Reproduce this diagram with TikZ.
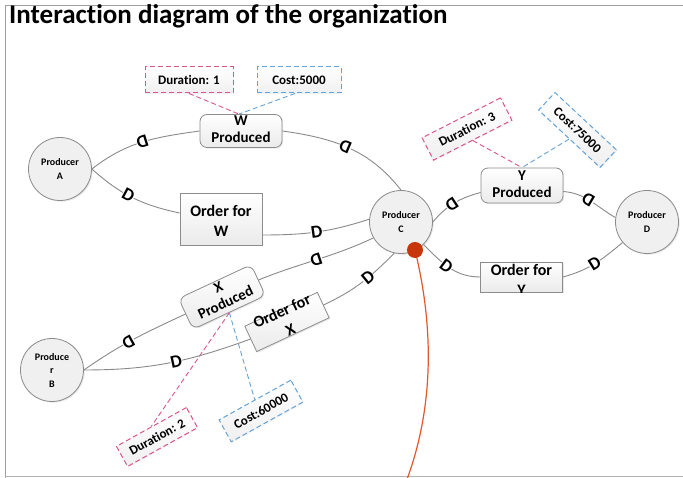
\documentclass[tikz,border=0pt]{standalone}
\usepackage{fontspec}
\setmainfont[Ligatures={NoCommon}]{Carlito}
\usetikzlibrary{shadows,calc}
\definecolor{linegray}{HTML}{8A8A8A}
\definecolor{edgegray}{HTML}{8C8C8C}
\definecolor{boxfill}{HTML}{F0F0F0}
\definecolor{durpink}{HTML}{D9558E}
\definecolor{costblue}{HTML}{63A3D8}
\definecolor{redline}{HTML}{E2572B}
\definecolor{reddot}{HTML}{C8370C}
\begin{document}
\begin{tikzpicture}[x=1pt,y=1pt,
  softshadow/.style={drop shadow={opacity=0.18,shadow xshift=1.2pt,shadow yshift=-1.2pt}},
  actor/.style={circle, draw=edgegray, line width=0.8pt, fill=boxfill, minimum size=63pt,
    inner sep=0pt, align=center, font=\bfseries\fontsize{10}{13.5}\selectfont, softshadow},
  prodbox/.style={rounded corners=7pt, draw=edgegray, line width=0.8pt, top color=white,
    bottom color=gray!16, minimum width=82pt, minimum height=33pt, inner sep=0pt, softshadow},
  orderbox/.style={rectangle, draw=edgegray, line width=0.8pt, top color=white,
    bottom color=gray!16, minimum width=82pt, inner sep=0pt, softshadow},
  boxtext/.style={align=center, inner sep=0pt, font=\bfseries\fontsize{15}{17}\selectfont},
  ordertext/.style={align=center, inner sep=0pt, font=\bfseries\fontsize{16}{20}\selectfont},
  note/.style={dash pattern=on 5pt off 3pt, line width=1pt, top color=white,
    bottom color=gray!12, inner sep=0pt, font=\bfseries\fontsize{13}{13}\selectfont,
    drop shadow={opacity=0.1,shadow xshift=1pt,shadow yshift=-1pt}},
  durnote/.style={note, draw=durpink},
  costnote/.style={note, draw=costblue},
  link/.style={draw=linegray, line width=0.9pt},
  durlink/.style={draw=durpink, dash pattern=on 5pt off 3pt, line width=0.9pt},
  costlink/.style={draw=costblue, dash pattern=on 5pt off 3pt, line width=0.9pt},
  dmark/.style={font=\bfseries\fontsize{18}{18}\selectfont, inner sep=0.3pt, sloped, fill=white, text=black},
]
\useasboundingbox (0,0) rectangle (683,478);

% frame and heading
\draw[gray!75, line width=0.8pt] (5,-5) -- (5,473) -- (690,473);
\draw[gray!60, line width=0.8pt] (5,1.5) -- (690,1.5);
\node[anchor=base west, inner sep=0pt, font=\bfseries\fontsize{27}{27}\selectfont] (title) at (9,454)
  {Interaction diagram of the organization};

% producers
\node[actor] (A) at (60,309) {Producer\\A};
\node[actor] (B) at (52,108) {Produce\\r\\B};
\node[actor] (C) at (401,256) {Producer\\C};
\node[actor] (D) at (647,256) {Producer\\D};

% process and order boxes
\node[prodbox] (WP) at (241,347) {};
\node[boxtext] (WPt) at (241,349) {W\\Produced};
\node[orderbox, minimum height=52pt] (OW) at (221,259) {};
\node[ordertext] (OWt) at (221,257) {Order for\\W};
\node[prodbox, minimum height=35pt] (YP) at (522,292.5) {};
\node[boxtext] (YPt) at (522,294) {Y\\Produced};
\node[orderbox, minimum height=30pt] (OY) at (521.5,201) {};
\begin{scope}
  \clip (OY.south west) rectangle (OY.north east);
  \node[ordertext] (OYt) at (521.5,198) {Order for\\Y};
\end{scope}
\node[prodbox, rotate=25, minimum width=80pt, minimum height=34pt] (XP) at (222,181) {};
\node[boxtext, rotate=25] (XPt) at (222,183) {X\\Produced};
\node[orderbox, rotate=25, minimum width=80pt, minimum height=28pt] (OX) at (287,156) {};
\node[ordertext, rotate=25] (OXt) at (286,158) {Order for\\X};

% annotations
\node[durnote, minimum width=88pt, minimum height=26pt] (N1) at (189,398) {Duration: 1};
\node[costnote, minimum width=84pt, minimum height=26pt] (N2) at (299,398) {Cost:5000};
\node[durnote, rotate=27, minimum width=88pt, minimum height=25pt] (N3) at (467,349) {Duration: 3};
\node[costnote, rotate=-43, minimum width=84pt, minimum height=24pt] (N4) at (577.5,348) {Cost:75000};
\node[durnote, rotate=29, minimum width=80pt, minimum height=23pt] (N5) at (157,41) {Duration: 2};
\node[costnote, rotate=29, minimum width=82pt, minimum height=25pt] (N6) at (261,67) {Cost:60000};

% annotation leaders
\coordinate (wtop) at ($(WP.north)+(-2,0)$);
\draw[durlink] (N1.south) -- (wtop);
\draw[costlink] ($(N2.south)+(-4,0)$) -- (wtop);
\draw[durlink] (N3.south) -- (YP.north);
\draw[costlink] (N4.south) -- (YP.north);
\draw[durlink] (XP.south) -- (N5.north);
\draw[costlink] (XP.south) -- (N6.north);

% flows
\draw[link] (A.east) to[out=38,in=188] node[pos=0.5, dmark, rotate=180] (d1) {D} (WP.west);
\draw[link] (WP.east) to[out=-8,in=128] node[pos=0.47, dmark, rotate=180] (d2) {D} (C.north);
\draw[link] (A.east) to[out=-42,in=168] node[pos=0.45, dmark] (d3) {D} ($(OW.west)+(0,6)$);
\draw[link] ($(OW.east)+(0,-16)$) to[out=0,in=198] node[pos=0.5, dmark] (d4) {D} (C.175);
\draw[link] (XP.east) to[out=22,in=205] node[pos=0.5, dmark, rotate=180] (d5) {D} (C.210);
\draw[link] (B.east) to[out=35,in=205] node[pos=0.45, dmark, rotate=180] (d6) {D} (XP.west);
\draw[link] (B.east) to[out=0,in=200] node[pos=0.55, dmark] (d7) {D} (OX.west);
\draw[link] (OX.east) to[out=25,in=225] node[pos=0.6, dmark] (d8) {D} (C.258);
\draw[link] (C.east) to[out=50,in=195] node[pos=0.45, dmark, rotate=180] (d9) {D} ($(YP.west)+(0,-7)$);
\draw[link] ($(YP.east)+(0,-6)$) to[out=-5,in=150] node[pos=0.45, dmark, rotate=180] (d10) {D} (D.172);
\draw[link] (C.-45) to[out=-45,in=180] node[pos=0.45, dmark] (d11) {D} (OY.west);
\draw[link] (OY.east) to[out=15,in=220] node[pos=0.5, dmark] (d12) {D} (D.220);

% marker with its trailing line
\coordinate (rend) at (406,-4);
\draw[redline, line width=1.2pt] (415,228) .. controls (434,150) and (434,70) .. (rend);
\node[circle, fill=reddot, minimum size=16pt, inner sep=0pt] (dot) at (415,228) {};
\end{tikzpicture}
\end{document}
